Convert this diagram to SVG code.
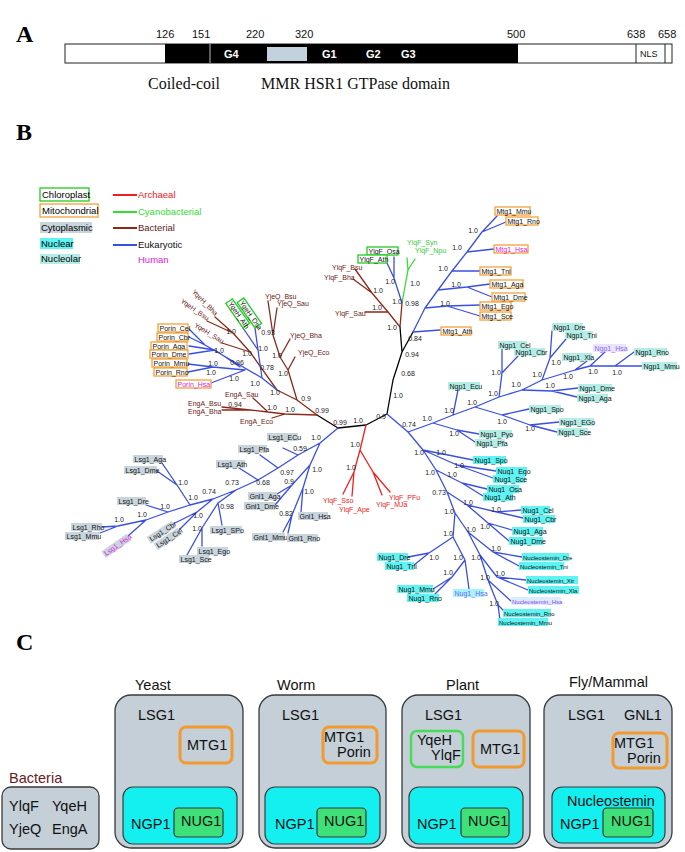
<svg xmlns="http://www.w3.org/2000/svg" width="685" height="852" viewBox="0 0 685 852">
<style>
text{font-family:"Liberation Sans",Arial,sans-serif}
.pl{font-family:"Liberation Serif","Times New Roman",serif;font-weight:bold;font-size:24px}
.ln{fill:none;stroke-width:1.3;stroke-linecap:round;stroke-linejoin:round}
.eu{stroke:#3a4fe2}.ba{stroke:#8c2a1a}.ar{stroke:#f02020}.cy{stroke:#33dd33}.bk{stroke:#000}
.lb text{font-size:7px;fill:#111}
.mi rect{fill:#fff;stroke:#f2a23a;stroke-width:1.3}
.ch rect{fill:#fff;stroke:#22cc22;stroke-width:1.3}
.cp rect{fill:#c9d5dd}
.nu rect{fill:#5ff3f3}
.no rect{fill:#b3ede6}
.hu text{fill:#e020e0}
.bt{font-size:7px;fill:#6b2020}
.rt{font-size:7px;fill:#ee2020}
.gt{font-size:7px;fill:#33cc33}
.s{font-size:7px;fill:#222;text-anchor:middle}
.lg{font-size:9.5px}
.c14{font-size:14.5px;fill:#111}
.gbox{fill:#c4cfd8;stroke:#3a3a3a;stroke-width:1.3}
.cbox{fill:#14f0f0;stroke:#3a3a3a;stroke-width:1.2}
.nbox{fill:#3ee07a;stroke:#3a3a3a;stroke-width:1.2}
.obox{fill:none;stroke:#f29a2e;stroke-width:3}
.grbox{fill:none;stroke:#44dd55;stroke-width:2.5}
</style>

<!-- Panel A -->
<g id="panelA">
<text class="pl" x="16" y="42">A</text>
<g font-size="11" fill="#111">
<text x="156" y="38">126</text><text x="192" y="38">151</text><text x="246" y="38">220</text><text x="295" y="38">320</text><text x="507" y="38">500</text><text x="627" y="38">638</text><text x="658" y="38">658</text>
</g>
<rect x="65" y="44" width="607" height="19" fill="#fff" stroke="#222" stroke-width="1"/>
<rect x="165" y="44" width="353" height="19" fill="#000"/>
<line x1="210" y1="44" x2="210" y2="63" stroke="#bbb" stroke-width="1"/>
<rect x="267" y="47" width="40" height="14" fill="#c2d2dc"/>
<line x1="636" y1="44" x2="636" y2="63" stroke="#222" stroke-width="1"/>
<line x1="665" y1="44" x2="665" y2="63" stroke="#222" stroke-width="1"/>
<g font-size="11" font-weight="bold" fill="#fff">
<text x="224" y="58">G4</text><text x="322" y="58">G1</text><text x="366" y="58">G2</text><text x="401" y="58">G3</text>
</g>
<text x="640" y="57" font-size="9" fill="#111">NLS</text>
<g font-size="16" fill="#111">
<text x="148" y="89" style="font-family:'Liberation Serif',serif">Coiled-coil</text>
<text x="261" y="89" style="font-family:'Liberation Serif',serif">MMR HSR1 GTPase domain</text>
</g>
</g>

<!-- Panel B -->
<text class="pl" x="16" y="140">B</text>
<g id="legend">
<rect x="40" y="188" width="49" height="13" fill="#fff" stroke="#22cc22" stroke-width="1.3"/>
<text class="lg" x="42" y="198">Chloroplast</text>
<rect x="40" y="204" width="58" height="13" fill="#fff" stroke="#f2a23a" stroke-width="1.3"/>
<text class="lg" x="42" y="214">Mitochondrial</text>
<rect x="40" y="222" width="52" height="11" fill="#c9d5dd"/>
<text class="lg" x="41" y="231">Cytoplasmic</text>
<rect x="40" y="238" width="33" height="11" fill="#5ff3f3"/>
<text class="lg" x="41" y="247">Nuclear</text>
<rect x="40" y="254" width="40" height="10" fill="#b3ede6"/>
<text class="lg" x="41" y="262">Nucleolar</text>
<line x1="113" y1="195" x2="137" y2="195" stroke="#f02020" stroke-width="2"/>
<line x1="113" y1="212" x2="137" y2="212" stroke="#33dd33" stroke-width="2"/>
<line x1="113" y1="228" x2="137" y2="228" stroke="#8c2a1a" stroke-width="2"/>
<line x1="113" y1="245" x2="137" y2="245" stroke="#3a4fe2" stroke-width="2"/>
<text class="lg" x="138" y="198" fill="#f02020">Archaeal</text>
<text class="lg" x="138" y="215" fill="#33dd33">Cyanobacterial</text>
<text class="lg" x="138" y="231" fill="#5a1a1a">Bacterial</text>
<text class="lg" x="138" y="248" fill="#111">Eukaryotic</text>
<text class="lg" x="138" y="263" fill="#e020e0">Human</text>
</g>

<g id="connectors">
<path class="ln bk" d="M317,415 L338,428 L366,425 L387,414 L393,380 L402,352 M402,352 L400,327 M402,352 L413,332"/>
<path class="ln ba" d="M400,327 L388,312 L365,312 M388,312 L372,293 L355,269 M372,293 L353,279 M400,327 L402,303
M317,415 L285,414 L272,418 M285,414 L268,412 L253,398 M268,412 L250,410 L222,407 M250,410 L222,410
M317,415 L297,400 L288,370 L295,357 M288,370 L280,357 L290,339 M280,357 L273,335 L268,301 M273,335 L277,308
M297,400 L277,390 L250,352 L233,333 L215,317 M233,333 L207,321 M250,352 L222,343"/>
<path class="ln cy" d="M402,303 L408,270 L407,258 M408,270 L415,259"/>
<path class="ln ar" d="M366,425 L360,450 L354,472 L343,494 M354,472 L352,496 M360,450 L373,472 L390,492 M373,472 L382,495"/>
<path class="ln eu" d="M402,303 L394,278 L394,257 M394,278 L387,263
M413,332 L440,330 M413,332 L425,308 L438,290 L452,271 L467,252 L482,232 L497,216 M425,308 L447,306 L480,305 M447,306 L480,316 M438,290 L467,287 L490,284 M467,287 L492,297 M452,271 L480,271 M467,252 L494,249 M482,232 L506,222
M387,414 L408,432 L433,423 L453,415 L475,407 L499,397 L522,390 L542,380 L575,370 L590,366 L615,366 L642,366
M433,423 L457,430 L479,434 M457,430 L475,442 M453,415 L458,390 M475,407 L502,415 L529,409 M502,415 L530,425 L559,422 M530,425 L557,432
M499,397 L502,373 L502,349 M502,373 L518,356 M522,390 L552,391 L578,388 M552,391 L577,397 M542,380 L550,358 L552,331 M550,358 L566,339 M575,370 L587,361 M590,366 L605,352 M615,366 L634,352
M408,432 L423,450 L436,470 L447,492 L455,513 M423,450 L473,460 M423,450 L457,465 L496,471 M457,465 L493,478 M436,470 L462,483 L487,489 M462,483 L483,496
M447,492 L467,505 L497,512 L521,510 M497,512 L523,518 M467,505 L488,523 L512,530 M488,523 L509,541
M455,513 L453,537 L429,553 L408,557 M429,553 L414,565 M453,537 L465,560 L469,589 M465,560 L452,577 L433,589 M452,577 L433,596
M455,513 L468,532 L493,552 L522,557 M493,552 L519,566 M468,532 L480,555 L497,577 L526,580 M497,577 L528,590 M480,555 L488,580 L511,601 M488,580 L498,605 L505,612 M498,605 L500,620
M338,428 L320,443 L298,455 L283,448 M320,443 L310,465 L303,488 L301,512 M303,488 L292,515 L283,532 M292,515 L288,533 M310,465 L292,485 L277,494 M292,485 L275,505
M298,455 L278,468 L260,455 M278,468 L258,480 L239,468 M258,480 L236,490 L213,499 L190,505 L168,512 L146,520 L118,526 L102,527 M118,526 L100,533
M236,490 L218,503 L222,525 M218,503 L202,528 L202,546 M202,528 L187,555 M213,499 L197,512 L173,524 M197,512 L179,530 M190,505 L177,485 L162,463 M177,485 L157,471 M168,512 L146,505 M146,520 L128,536
M277,390 L262,378 L258,350 L243,328 M258,350 L255,328 M262,378 L205,345 L189,329 M205,345 L189,337 M245,370 L211,383 M245,370 L213,367 L188,364 M213,367 L188,372 M240,367 L215,350 L189,346 M215,350 L189,354"/>
</g>

<g id="support">
<text class="s" x="473" y="233">1.0</text><text class="s" x="457" y="250">1.0</text><text class="s" x="443" y="271">1.0</text><text class="s" x="456" y="287">1.0</text><text class="s" x="445" y="306">1.0</text><text class="s" x="412" y="306">0.98</text><text class="s" x="415" y="341">0.84</text>
<text class="s" x="390" y="284">1.0</text><text class="s" x="415" y="286">1.0</text><text class="s" x="397" y="304">1.0</text><text class="s" x="378" y="293">1.0</text><text class="s" x="377" y="310">1.0</text><text class="s" x="392" y="330">1.0</text>
<text class="s" x="412" y="357">0.94</text><text class="s" x="408" y="376">0.68</text>
<text class="s" x="322" y="413">0.99</text><text class="s" x="340" y="425">0.99</text><text class="s" x="358" y="423">1.0</text><text class="s" x="381" y="419">0.9</text><text class="s" x="398" y="398">1.0</text><text class="s" x="409" y="427">0.74</text>
<text class="s" x="427" y="421">1.0</text><text class="s" x="449" y="413">1.0</text><text class="s" x="472" y="405">1.0</text><text class="s" x="454" y="436">1.0</text><text class="s" x="493" y="396">1.0</text><text class="s" x="496" y="375">1.0</text><text class="s" x="516" y="387">1.0</text><text class="s" x="537" y="377">1.0</text><text class="s" x="556" y="365">1.0</text><text class="s" x="550" y="388">1.0</text><text class="s" x="568" y="379">1.0</text><text class="s" x="593" y="374">1.0</text><text class="s" x="617" y="375">1.0</text><text class="s" x="502" y="424">1.0</text><text class="s" x="530" y="431">1.0</text>
<text class="s" x="419" y="455">1.0</text><text class="s" x="441" y="455">1.0</text><text class="s" x="459" y="468">1.0</text><text class="s" x="430" y="475">1.0</text><text class="s" x="452" y="477">1.0</text><text class="s" x="439" y="495">0.73</text><text class="s" x="468" y="505">1.0</text><text class="s" x="496" y="512">1.0</text><text class="s" x="449" y="514">1.0</text><text class="s" x="485" y="529">1.0</text><text class="s" x="471" y="532">1.0</text><text class="s" x="448" y="536">1.0</text><text class="s" x="496" y="551">1.0</text><text class="s" x="434" y="560">1.0</text><text class="s" x="458" y="560">1.0</text><text class="s" x="476" y="560">1.0</text><text class="s" x="448" y="575">1.0</text><text class="s" x="500" y="576">1.0</text><text class="s" x="485" y="580">1.0</text><text class="s" x="494" y="606">1.0</text>
<text class="s" x="355" y="447">1.0</text><text class="s" x="351" y="470">1.0</text>
<text class="s" x="316" y="440">1.0</text><text class="s" x="300" y="451">0.59</text><text class="s" x="317" y="472">1.0</text><text class="s" x="309" y="494">1.0</text><text class="s" x="289" y="484">0.9</text><text class="s" x="286" y="516">0.82</text><text class="s" x="287" y="475">0.97</text><text class="s" x="263" y="485">0.68</text><text class="s" x="232" y="485">0.73</text><text class="s" x="227" y="509">0.98</text><text class="s" x="197" y="531">1.0</text><text class="s" x="209" y="494">0.74</text><text class="s" x="198" y="518">1.0</text><text class="s" x="193" y="500">1.0</text><text class="s" x="183" y="485">1.0</text><text class="s" x="165" y="509">1.0</text><text class="s" x="142" y="517">1.0</text><text class="s" x="119" y="522">1.0</text>
<text class="s" x="290" y="412">1.0</text><text class="s" x="272" y="410">1.0</text><text class="s" x="235" y="407">0.94</text><text class="s" x="306" y="401">0.9</text><text class="s" x="283" y="376">1.0</text><text class="s" x="277" y="358">1.0</text><text class="s" x="268" y="335">0.93</text><text class="s" x="275" y="395">1.0</text><text class="s" x="255" y="386">1.0</text><text class="s" x="267" y="370">0.78</text><text class="s" x="247" y="356">1.0</text><text class="s" x="237" y="365">0.96</text><text class="s" x="234" y="381">1.0</text><text class="s" x="213" y="366">1.0</text><text class="s" x="211" y="375">1.0</text><text class="s" x="219" y="353">1.0</text><text class="s" x="231" y="334">1.0</text><text class="s" x="263" y="351">1.0</text>
</g>

<!-- Mitochondrial -->
<g class="lb mi">
<g id="Mtg1_Mmu"><rect x="495" y="207" width="35" height="8"/><text x="496.5" y="213.5">Mtg1_Mmu</text></g>
<g id="Mtg1_Rno"><rect x="506" y="217" width="32" height="8"/><text x="507.5" y="223.5">Mtg1_Rno</text></g>
<g id="Mtg1_Hsa" class="hu"><rect x="494" y="245" width="34" height="8"/><text x="495.5" y="251.5">Mtg1_Hsa</text></g>
<g id="Mtg1_Tni"><rect x="480" y="267" width="31" height="8"/><text x="481.5" y="273.5">Mtg1_Tni</text></g>
<g id="Mtg1_Aga"><rect x="490" y="280" width="33" height="8"/><text x="491.5" y="286.5">Mtg1_Aga</text></g>
<g id="Mtg1_Dme"><rect x="492" y="293" width="33" height="8"/><text x="493.5" y="299.5">Mtg1_Dme</text></g>
<g id="Mtg1_Ego"><rect x="480" y="302" width="31" height="8"/><text x="481.5" y="308.5">Mtg1_Ego</text></g>
<g id="Mtg1_Sce"><rect x="480" y="312" width="31" height="8"/><text x="481.5" y="318.5">Mtg1_Sce</text></g>
<g id="Mtg1_Ath"><rect x="441" y="327" width="30" height="8"/><text x="442.5" y="333.5">Mtg1_Ath</text></g>
<g id="Porin_Cel"><rect x="158" y="324" width="30" height="8"/><text x="159.5" y="330.5">Porin_Cel</text></g>
<g id="Porin_Cbr"><rect x="157" y="333" width="31" height="8"/><text x="158.5" y="339.5">Porin_Cbr</text></g>
<g id="Porin_Aga"><rect x="151" y="342" width="36" height="8"/><text x="152.5" y="348.5">Porin_Aga</text></g>
<g id="Porin_Dme"><rect x="150" y="350" width="38" height="8"/><text x="151.5" y="356.5">Porin_Dme</text></g>
<g id="Porin_Mmu"><rect x="152" y="359" width="35" height="8"/><text x="153.5" y="365.5">Porin_Mmu</text></g>
<g id="Porin_Rno"><rect x="154" y="368" width="33" height="8"/><text x="155.5" y="374.5">Porin_Rno</text></g>
<g id="Porin_Hsa" class="hu"><rect x="176" y="380" width="35" height="8"/><text x="177.5" y="386.5">Porin_Hsa</text></g>
</g>

<!-- Chloroplast -->
<g class="lb ch">
<g id="YlqF_Osa"><rect x="367" y="247" width="31" height="8"/><text x="368.5" y="253.5">YlqF_Osa</text></g>
<g id="YlqF_Ath"><rect x="358" y="255" width="29" height="8"/><text x="359.5" y="261.5">YlqF_Ath</text></g>
<g id="YqeH_Ath" transform="translate(243,328) rotate(55)"><rect x="-30" y="-8" width="30" height="8"/><text x="-28.5" y="-1.5">YqeH_Ath</text></g>
<g id="YqeH_Osa" transform="translate(255,328) rotate(55)"><rect x="-31" y="-8" width="31" height="8"/><text x="-29.5" y="-1.5">YqeH_Osa</text></g>
</g>

<!-- Nucleolar -->
<g class="lb no">
<g id="Ngp1_Dre"><rect x="552" y="323" width="31" height="8"/><text x="553.5" y="329.5">Ngp1_Dre</text></g>
<g id="Ngp1_Tni"><rect x="565" y="331" width="28" height="8"/><text x="566.5" y="337.5">Ngp1_Tni</text></g>
<g id="Ngp1_Cel"><rect x="498" y="341" width="29" height="8"/><text x="499.5" y="347.5">Ngp1_Cel</text></g>
<g id="Ngp1_Cbr"><rect x="514" y="348" width="31" height="8"/><text x="515.5" y="354.5">Ngp1_Cbr</text></g>
<g id="Ngp1_Xla"><rect x="562" y="353" width="30" height="8"/><text x="563.5" y="359.5">Ngp1_Xla</text></g>
<g id="Ngp1_Hsa"><rect x="593" y="344" width="33" height="8" style="fill:#ebe4ff"/><text x="594.5" y="350.5" style="fill:#8a66ff">Ngp1_Hsa</text></g>
<g id="Ngp1_Rno"><rect x="634" y="348" width="33" height="8"/><text x="635.5" y="354.5">Ngp1_Rno</text></g>
<g id="Ngp1_Mmu"><rect x="642" y="362" width="35" height="8"/><text x="643.5" y="368.5">Ngp1_Mmu</text></g>
<g id="Ngp1_Dme"><rect x="578" y="384" width="34" height="8"/><text x="579.5" y="390.5">Ngp1_Dme</text></g>
<g id="Ngp1_Aga"><rect x="577" y="394" width="31" height="8"/><text x="578.5" y="400.5">Ngp1_Aga</text></g>
<g id="Ngp1_Spo"><rect x="529" y="405" width="32" height="8"/><text x="530.5" y="411.5">Ngp1_Spo</text></g>
<g id="Ngp1_EGo"><rect x="559" y="418" width="35" height="8"/><text x="560.5" y="424.5">Ngp1_EGo</text></g>
<g id="Ngp1_Sce"><rect x="557" y="428" width="31" height="8"/><text x="558.5" y="434.5">Ngp1_Sce</text></g>
<g id="Ngp1_Ecu"><rect x="448" y="382" width="32" height="8"/><text x="449.5" y="388.5">Ngp1_Ecu</text></g>
<g id="Ngp1_Pyo"><rect x="479" y="430" width="33" height="8"/><text x="480.5" y="436.5">Ngp1_Pyo</text></g>
<g id="Ngp1_Pfa"><rect x="475" y="439" width="30" height="8"/><text x="476.5" y="445.5">Ngp1_Pfa</text></g>
</g>

<!-- Nuclear -->
<g class="lb nu">
<g id="Nug1_Spo"><rect x="473" y="456" width="33" height="8"/><text x="474.5" y="462.5">Nug1_Spo</text></g>
<g id="Nug1_Ego"><rect x="496" y="467" width="31" height="8"/><text x="497.5" y="473.5">Nug1_Ego</text></g>
<g id="Nug1_Sce"><rect x="493" y="475" width="32" height="8"/><text x="494.5" y="481.5">Nug1_Sce</text></g>
<g id="Nug1_Osa"><rect x="487" y="485" width="32" height="8"/><text x="488.5" y="491.5">Nug1_Osa</text></g>
<g id="Nug1_Ath"><rect x="483" y="493" width="30" height="8"/><text x="484.5" y="499.5">Nug1_Ath</text></g>
<g id="Nug1_Cel"><rect x="521" y="506" width="29" height="8"/><text x="522.5" y="512.5">Nug1_Cel</text></g>
<g id="Nug1_Cbr"><rect x="523" y="515" width="32" height="8"/><text x="524.5" y="521.5">Nug1_Cbr</text></g>
<g id="Nug1_Aga"><rect x="512" y="527" width="31" height="8"/><text x="513.5" y="533.5">Nug1_Aga</text></g>
<g id="Nug1_Dme"><rect x="509" y="537" width="34" height="8"/><text x="510.5" y="543.5">Nug1_Dme</text></g>
<g id="Nug1_Dre"><rect x="377" y="553" width="31" height="8"/><text x="378.5" y="559.5">Nug1_Dre</text></g>
<g id="Nug1_Tni"><rect x="385" y="562" width="29" height="8"/><text x="386.5" y="568.5">Nug1_Tni</text></g>
<g id="Nug1_Mmu"><rect x="397" y="585" width="36" height="8"/><text x="398.5" y="591.5">Nug1_Mmu</text></g>
<g id="Nug1_Rno"><rect x="407" y="594" width="32" height="8"/><text x="408.5" y="600.5">Nug1_Rno</text></g>
<g id="Nug1_Hsa"><rect x="453" y="589" width="31" height="8" style="fill:#a8f4fa"/><text x="454.5" y="595.5" style="fill:#6a6aff">Nug1_Hsa</text></g>
<g id="Nucleostemin_Dre"><rect x="522" y="553" width="47" height="8"/><text x="523" y="559.5" style="font-size:6px">Nucleostemin_Dre</text></g>
<g id="Nucleostemin_Tni"><rect x="519" y="562" width="45" height="8"/><text x="520" y="568.5" style="font-size:6px">Nucleostemin_Tni</text></g>
<g id="Nucleostemin_Xtr"><rect x="526" y="576" width="52" height="8"/><text x="527" y="582.5" style="font-size:6px">Nucleostemin_Xtr</text></g>
<g id="Nucleostemin_Xla"><rect x="528" y="586" width="51" height="8"/><text x="529" y="592.5" style="font-size:6px">Nucleostemin_Xla</text></g>
<g id="Nucleostemin_Hsa"><rect x="511" y="597" width="50" height="8" style="fill:#dcecff"/><text x="512" y="603.5" style="font-size:6px;fill:#8a44ee">Nucleostemin_Hsa</text></g>
<g id="Nucleostemin_Rno"><rect x="503" y="609" width="48" height="8"/><text x="504" y="615.5" style="font-size:6px">Nucleostemin_Rno</text></g>
<g id="Nucleostemin_Mmu"><rect x="498" y="618" width="50" height="8"/><text x="499" y="624.5" style="font-size:6px">Nucleostemin_Mmu</text></g>
</g>

<!-- Cytoplasmic -->
<g class="lb cp">
<g id="Lsg1_ECu"><rect x="267" y="433" width="31" height="8"/><text x="268.5" y="439.5">Lsg1_ECu</text></g>
<g id="Lsg1_Pfa"><rect x="238" y="445" width="29" height="8"/><text x="239.5" y="451.5">Lsg1_Pfa</text></g>
<g id="Lsg1_Ath"><rect x="216" y="460" width="29" height="8"/><text x="217.5" y="466.5">Lsg1_Ath</text></g>
<g id="Gnl1_Aga"><rect x="248" y="492" width="29" height="8"/><text x="249.5" y="498.5">Gnl1_Aga</text></g>
<g id="Gnl1_Dme"><rect x="244" y="502" width="31" height="8"/><text x="245.5" y="508.5">Gnl1_Dme</text></g>
<g id="Gnl1_Hsa"><rect x="298" y="512" width="30" height="8"/><text x="299.5" y="518.5">Gnl1_Hsa</text></g>
<g id="Gnl1_Mmu"><rect x="252" y="533" width="33" height="8"/><text x="253.5" y="539.5">Gnl1_Mmu</text></g>
<g id="Gnl1_Rno"><rect x="287" y="534" width="31" height="8"/><text x="288.5" y="540.5">Gnl1_Rno</text></g>
<g id="Lsg1_SPo"><rect x="210" y="526" width="32" height="8"/><text x="211.5" y="532.5">Lsg1_SPo</text></g>
<g id="Lsg1_Ego"><rect x="197" y="547" width="31" height="8"/><text x="198.5" y="553.5">Lsg1_Ego</text></g>
<g id="Lsg1_Sce"><rect x="179" y="555" width="30" height="8"/><text x="180.5" y="561.5">Lsg1_Sce</text></g>
<g id="Lsg1_Aga"><rect x="133" y="455" width="30" height="8"/><text x="134.5" y="461.5">Lsg1_Aga</text></g>
<g id="Lsg1_Dme"><rect x="124" y="466" width="33" height="8"/><text x="125.5" y="472.5">Lsg1_Dme</text></g>
<g id="Lsg1_Dre"><rect x="117" y="497" width="29" height="8"/><text x="118.5" y="503.5">Lsg1_Dre</text></g>
<g id="Lsg1_Rho"><rect x="71" y="523" width="31" height="8"/><text x="72.5" y="529.5">Lsg1_Rho</text></g>
<g id="Lsg1_Mmu"><rect x="65" y="532" width="34" height="8"/><text x="66.5" y="538.5">Lsg1_Mmu</text></g>
<g id="Lsg1_Cbr" transform="translate(174,524) rotate(-33)"><rect x="-30" y="-4" width="30" height="8"/><text x="-28.5" y="2.5">Lsg1_Cbr</text></g>
<g id="Lsg1_Cel" transform="translate(180,531) rotate(-33)"><rect x="-29" y="-4" width="29" height="8"/><text x="-27.5" y="2.5">Lsg1_Cel</text></g>
<g id="Lsg1_Hsa" class="hu" transform="translate(129,537) rotate(-35)"><rect x="-31" y="-4" width="31" height="8"/><text x="-29.5" y="2.5">Lsg1_Hsa</text></g>
</g>

<!-- Bacterial / archaeal / cyanobacterial labels -->
<g id="bacterial-labels">
<text class="bt" x="332" y="270">YlqF_Bsu</text>
<text class="bt" x="324" y="280">YlqF_Bha</text>
<text class="bt" x="335" y="316">YlqF_Sau</text>
<text class="bt" x="265" y="299">YjeQ_Bsu</text>
<text class="bt" x="277" y="306">YjeQ_Sau</text>
<text class="bt" x="290" y="338">YjeQ_Bha</text>
<text class="bt" x="298" y="355">YjeQ_Eco</text>
<text class="bt" x="225" y="397">EngA_Sau</text>
<text class="bt" x="188" y="406">EngA_Bsu</text>
<text class="bt" x="188" y="414">EngA_Bha</text>
<text class="bt" x="240" y="424">EngA_Eco</text>
<text class="bt" text-anchor="end" transform="translate(215,316) rotate(45)">YqeH_Bha</text>
<text class="bt" text-anchor="end" transform="translate(207,321) rotate(35)">YqeH_Bsu</text>
<text class="bt" text-anchor="end" transform="translate(222,344) rotate(32)">YqeH_Sau</text>
</g>
<g id="cyano-labels">
<text class="gt" x="407" y="245">YlqF_Syn</text>
<text class="gt" x="415" y="253">YlqF_Npu</text>
</g>
<g id="archaeal-labels">
<text class="rt" x="323" y="503">YlqF_Sso</text>
<text class="rt" x="339" y="512">YlqF_Ape</text>
<text class="rt" x="389" y="500">YlqF_PFu</text>
<text class="rt" x="376" y="507">YlqF_MJa</text>
</g>

<!-- Panel C -->
<text class="pl" x="16" y="650">C</text>
<g id="bacteria">
<text x="9" y="783" font-size="14.5" fill="#6b1a1a">Bacteria</text>
<rect class="gbox" x="2" y="787" width="97" height="62" rx="9"/>
<text class="c14" x="9" y="811">YlqF</text><text class="c14" x="52" y="811">YqeH</text>
<text class="c14" x="9" y="834">YjeQ</text><text class="c14" x="52" y="834">EngA</text>
</g>
<g id="yeast">
<text class="c14" x="135" y="690">Yeast</text>
<rect class="gbox" x="115" y="695" width="128" height="153" rx="16"/>
<text class="c14" x="138" y="720">LSG1</text>
<rect class="obox" x="180" y="727" width="52" height="36" rx="6"/>
<text class="c14" x="187" y="750">MTG1</text>
<rect class="cbox" x="123" y="787" width="114" height="57" rx="10"/>
<text class="c14" x="131" y="829">NGP1</text>
<rect class="nbox" x="174" y="808" width="49" height="29" rx="4"/>
<text class="c14" x="181" y="826">NUG1</text>
</g>
<g id="worm">
<text class="c14" x="277" y="690">Worm</text>
<rect class="gbox" x="259" y="695" width="127" height="153" rx="16"/>
<text class="c14" x="282" y="720">LSG1</text>
<rect class="obox" x="323" y="727" width="54" height="36" rx="6"/>
<text class="c14" x="324" y="742">MTG1</text><text class="c14" x="337" y="757">Porin</text>
<rect class="cbox" x="265" y="787" width="115" height="57" rx="10"/>
<text class="c14" x="275" y="829">NGP1</text>
<rect class="nbox" x="317" y="808" width="49" height="29" rx="4"/>
<text class="c14" x="324" y="826">NUG1</text>
</g>
<g id="plant">
<text class="c14" x="446" y="690">Plant</text>
<rect class="gbox" x="402" y="695" width="128" height="153" rx="16"/>
<text class="c14" x="425" y="720">LSG1</text>
<rect class="grbox" x="411" y="731" width="52" height="36" rx="6"/>
<text class="c14" x="417" y="745">YqeH</text><text class="c14" x="431" y="760">YlqF</text>
<rect class="obox" x="473" y="731" width="51" height="36" rx="6"/>
<text class="c14" x="480" y="754">MTG1</text>
<rect class="cbox" x="409" y="787" width="114" height="57" rx="10"/>
<text class="c14" x="417" y="829">NGP1</text>
<rect class="nbox" x="461" y="808" width="48" height="29" rx="4"/>
<text class="c14" x="468" y="826">NUG1</text>
</g>
<g id="flymammal">
<text class="c14" x="569" y="687">Fly/Mammal</text>
<rect class="gbox" x="544" y="695" width="128" height="153" rx="16"/>
<text class="c14" x="568" y="720">LSG1</text><text class="c14" x="624" y="720">GNL1</text>
<rect class="obox" x="613" y="733" width="54" height="35" rx="6"/>
<text class="c14" x="614" y="748">MTG1</text><text class="c14" x="627" y="763">Porin</text>
<rect class="cbox" x="552" y="787" width="113" height="56" rx="10"/>
<text class="c14" x="567" y="806">Nucleostemin</text>
<text class="c14" x="560" y="829">NGP1</text>
<rect class="nbox" x="603" y="808" width="50" height="29" rx="4"/>
<text class="c14" x="611" y="826">NUG1</text>
</g>
</svg>
